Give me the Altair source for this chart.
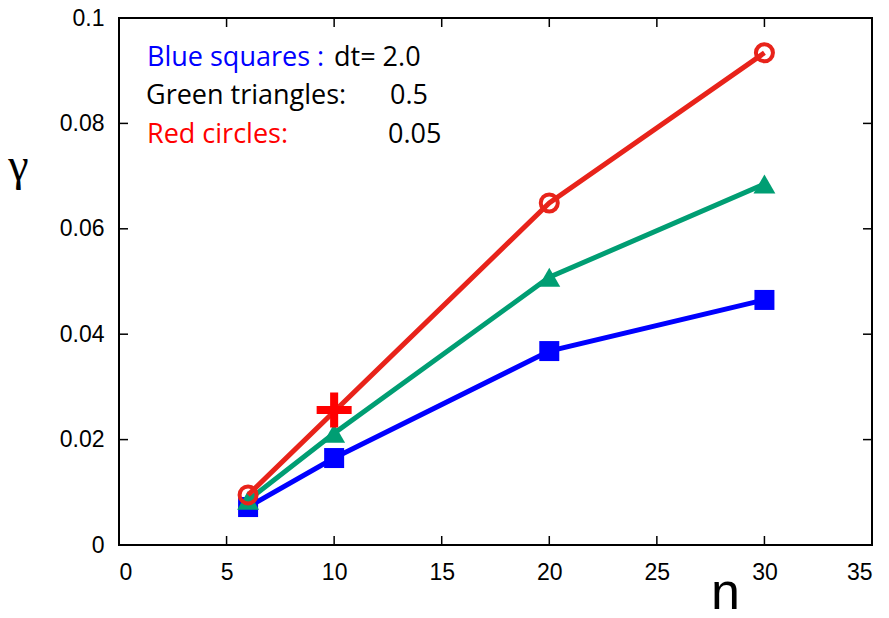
import altair as alt
import pandas as pd

# gamma versus n for three time steps
n_vals = [6, 10, 20, 30]
blue_gamma = [0.0072, 0.0165, 0.0368, 0.0465]      # dt = 2.0
green_gamma = [0.0085, 0.0212, 0.0508, 0.0685]     # dt = 0.5
red_n = [6, 20, 30]
red_gamma = [0.0095, 0.0649, 0.0934]               # dt = 0.05
plus_n = [10]
plus_gamma = [0.0256]

x_ticks = [0, 5, 10, 15, 20, 25, 30, 35]
y_ticks = [0, 0.02, 0.04, 0.06, 0.08, 0.1]

W, H = 753, 527
BLUE = "#0000FF"
GREEN = "#009E73"
RED = "#E8231A"

xs = alt.Scale(domain=[0, 35], nice=False, zero=False)
ys = alt.Scale(domain=[0, 0.1], nice=False, zero=False)

x_axis = alt.Axis(values=x_ticks, title="n", titleX=606, titleY=63)
y_axis = alt.Axis(values=y_ticks, title="γ", format="~g", titleAngle=0,
                  titleX=-101, titleY=161, titleFont="Liberation Serif",
                  titleFontSize=46)


def series(n, g, color, shape, size, filled):
    df = pd.DataFrame({"n": n, "gamma": g})
    base = alt.Chart(df)
    line = base.mark_line(color=color, strokeWidth=5).encode(
        x=alt.X("n:Q", scale=xs, axis=x_axis),
        y=alt.Y("gamma:Q", scale=ys, axis=y_axis),
    )
    pts = base.mark_point(shape=shape, size=size, filled=filled, color=color,
                          opacity=1, strokeWidth=4).encode(
        x=alt.X("n:Q", scale=xs, axis=x_axis),
        y=alt.Y("gamma:Q", scale=ys, axis=y_axis),
    )
    return line + pts


blue = series(n_vals, blue_gamma, BLUE, "square", 400, True)
green = series(n_vals, green_gamma, GREEN, "triangle-up", 480, True)
red = series(red_n, red_gamma, RED, "circle", 290, False)

plus_path = "M-0.23,-1H0.23V-0.23H1V0.23H0.23V1H-0.23V0.23H-1V-0.23H-0.23Z"
plus = alt.Chart(pd.DataFrame({"n": plus_n, "gamma": plus_gamma})).mark_point(
    shape=plus_path, size=1225, filled=True, color="#FF0000", opacity=1
).encode(x=alt.X("n:Q", scale=xs, axis=x_axis), y=alt.Y("gamma:Q", scale=ys, axis=y_axis))

# inward tick marks on all four sides
inner_x = [t for t in x_ticks if 0 < t < 35]
inner_y = [t for t in y_ticks if 0 < t < 0.1]
xt = alt.Chart(pd.DataFrame({"t": inner_x}))
yt = alt.Chart(pd.DataFrame({"t": inner_y}))
tick_style = dict(color="black", strokeWidth=1.5)
ticks = (
    xt.mark_rule(**tick_style).encode(x=alt.X("t:Q", scale=xs, axis=x_axis), y=alt.value(H), y2=alt.value(H - 9))
    + xt.mark_rule(**tick_style).encode(x=alt.X("t:Q", scale=xs, axis=x_axis), y=alt.value(0), y2=alt.value(9))
    + yt.mark_rule(**tick_style).encode(y=alt.Y("t:Q", scale=ys, axis=y_axis), x=alt.value(0), x2=alt.value(9))
    + yt.mark_rule(**tick_style).encode(y=alt.Y("t:Q", scale=ys, axis=y_axis), x=alt.value(W), x2=alt.value(W - 9))
)


def note(text, x, y, color):
    return alt.Chart(pd.DataFrame({"s": [text]})).mark_text(
        align="left", baseline="alphabetic", font="Open Sans", fontSize=27, color=color
    ).encode(text="s:N", x=alt.value(x), y=alt.value(y))


notes = (
    note("Blue squares :", 28, 48, BLUE)
    + note("dt= 2.0", 215, 48, "black")
    + note("Green triangles:", 27, 86, "black")
    + note("0.5", 271, 86, "black")
    + note("Red circles:", 28, 125, "#FF0000")
    + note("0.05", 269, 125, "black")
)

chart = (blue + green + red + plus + ticks + notes).properties(
    width=W, height=H,
    autosize=alt.AutoSizeParams(type="none"),
    padding={"left": 119, "top": 18, "right": 17, "bottom": 73},
    background="white",
).configure_axis(
    ticks=False, domain=False, grid=False,
    labelFontSize=23, labelFont="Liberation Sans", labelColor="black",
    titleFontSize=52, titleFont="Liberation Sans", titleFontWeight="normal",
    titleColor="black", titleBaseline="alphabetic", titleAlign="center",
).configure_axisX(labelPadding=16).configure_axisY(labelPadding=15).configure_view(
    stroke="black", strokeWidth=2
)

chart.save("out.html", embed_options={"renderer": "svg", "actions": False})
